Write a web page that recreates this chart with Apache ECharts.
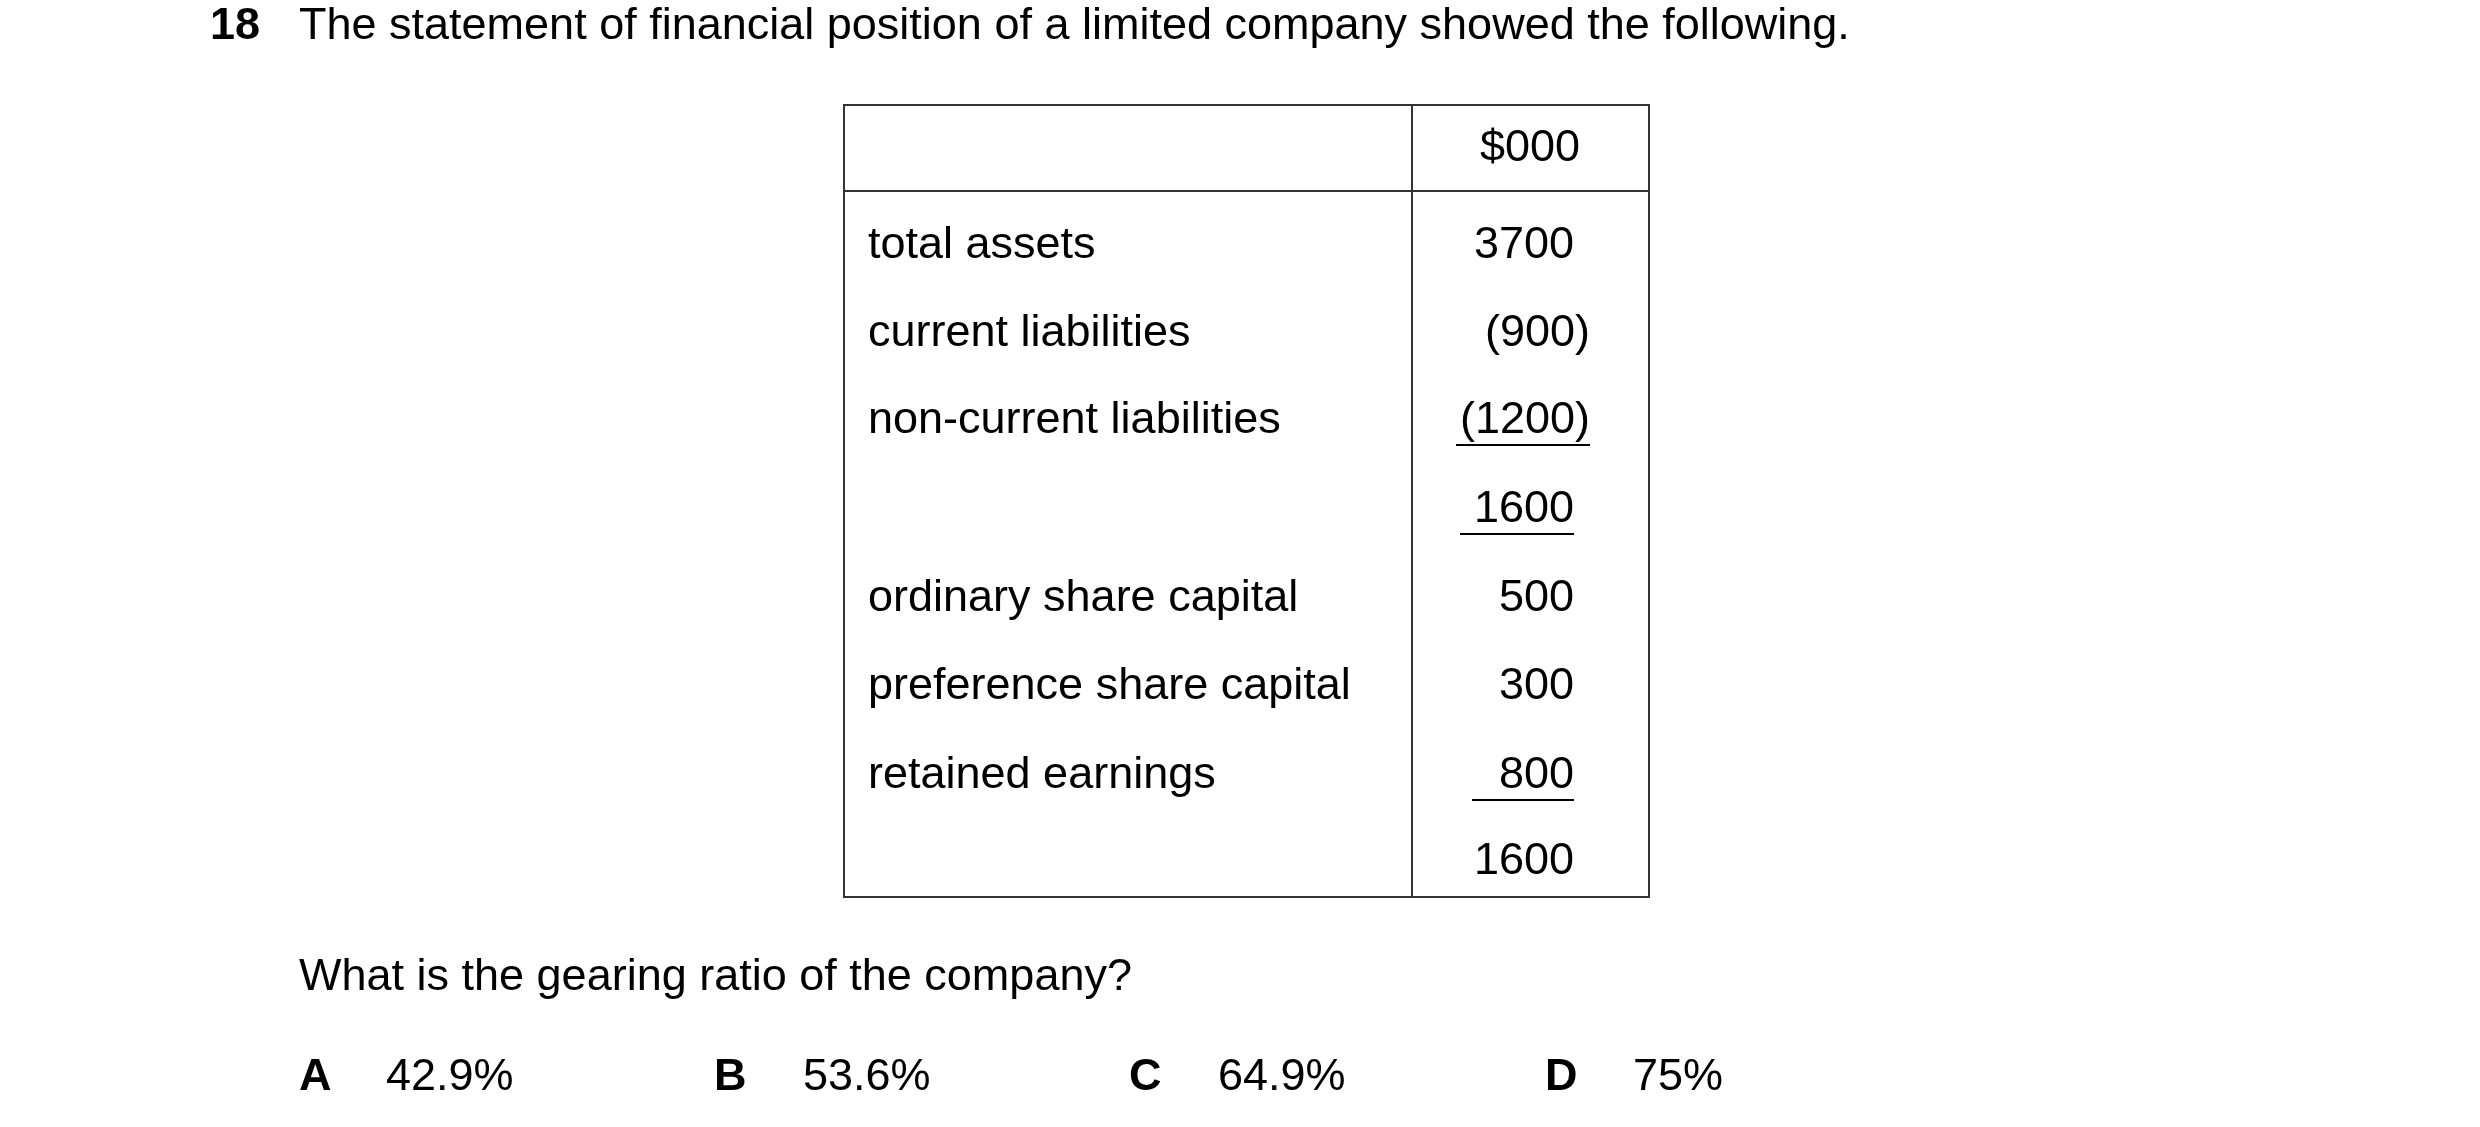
<!DOCTYPE html><html><head><meta charset="utf-8">
<script src="https://cdn.jsdelivr.net/npm/echarts@6/dist/echarts.min.js"></script>
<style>html,body{margin:0;background:#fff}#c{width:2480px;height:1127px}</style></head><body><div id="c"></div>
<script>
const labels=["total assets","current liabilities","non-current liabilities","","ordinary share capital","preference share capital","retained earnings",""];
const values=["3700","(900)","(1200)","1600","500","300","800","1600"];
const underlined=[false,false,true,true,false,false,true,false];
const options=[["A","42.9%"],["B","53.6%"],["C","64.9%"],["D","75%"]];
const F='"Liberation Sans", Arial, sans-serif', FS=45;
const rowY=[246,334,421,510,599,687,776,862];
const g=[];
function t(x,y,s,o={}){g.push({type:'text',x,y,style:Object.assign({text:s,font:(o.bold?'bold ':'')+FS+'px '+F,fill:'#000',textAlign:o.align||'left',textVerticalAlign:'middle'},{})});}
t(210,27,"18",{bold:true});
t(299,27,"The statement of financial position of a limited company showed the following.");
g.push({type:'rect',shape:{x:844,y:105,width:805,height:792},style:{fill:'none',stroke:'#333',lineWidth:2}});
g.push({type:'line',shape:{x1:1412,y1:105,x2:1412,y2:897},style:{stroke:'#333',lineWidth:2}});
g.push({type:'line',shape:{x1:844,y1:191,x2:1649,y2:191},style:{stroke:'#333',lineWidth:2}});
t(1530,149,"$000",{align:'center'});
const ul={2:[1456,1590],3:[1460,1574],6:[1472,1574]};
labels.forEach((l,i)=>{
  if(l) t(868,rowY[i],l);
  const v=values[i];
  t(v.endsWith(')')?1590:1574,rowY[i],v,{align:'right'});
  if(underlined[i]){const u=ul[i];g.push({type:'line',shape:{x1:u[0],y1:rowY[i]+24,x2:u[1],y2:rowY[i]+24},style:{stroke:'#000',lineWidth:2}});}
});
t(299,978,"What is the gearing ratio of the company?");
const ox=[[299,386],[714,803],[1129,1218],[1545,1633]];
options.forEach((o,i)=>{t(ox[i][0],1078,o[0],{bold:true});t(ox[i][1],1078,o[1]);});
const ch=echarts.init(document.getElementById('c'));
ch.setOption({animation:false,graphic:g});
</script></body></html>
